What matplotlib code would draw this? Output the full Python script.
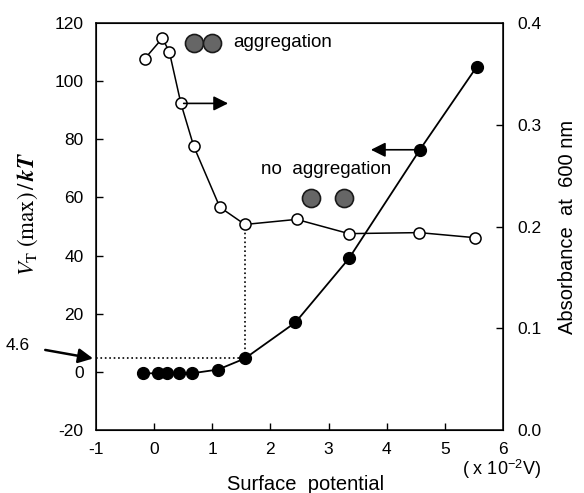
import matplotlib.pyplot as plt

plt.rcParams['font.family'] = ['Liberation Sans', 'DejaVu Sans']
plt.rcParams['mathtext.fontset'] = 'stix'
plt.rcParams['axes.unicode_minus'] = False

# potencial superficial (x 10^-2 V) y V_T(max)/kT (puntos llenos, eje izquierdo)
x_vt = [-0.19, 0.07, 0.22, 0.43, 0.65, 1.10, 1.56, 2.43, 3.35, 4.57, 5.55]
vt = [-0.5, -0.5, -0.5, -0.5, -0.5, 0.8, 4.6, 17, 39, 76.4, 105]

# absorbancia a 600 nm (puntos abiertos, eje derecho)
x_abs = [-0.16, 0.14, 0.26, 0.46, 0.68, 1.13, 1.56, 2.45, 3.35, 4.56, 5.52]
absorb = [0.365, 0.385, 0.372, 0.321, 0.279, 0.219, 0.202, 0.207, 0.193, 0.194, 0.189]

vt_critico = 4.6
x_critico = 1.56

fig = plt.figure(figsize=(5.84, 4.93), dpi=100)
ax = fig.add_axes([0.1644, 0.1278, 0.6969, 0.8255])
ax2 = ax.twinx()

ax.set_xlim(-1, 6)
ax.set_ylim(-20, 120)
ax2.set_ylim(0, 0.4)

ax.plot(x_vt, vt, '-o', color='black', lw=1.3, ms=8.5, mfc='black', zorder=3)
ax2.plot(x_abs, absorb, '-o', color='black', lw=1.1, ms=8, mfc='white', mew=1.1, zorder=3)

# lineas punteadas del valor critico
abs_c = absorb[x_abs.index(x_critico)]
top_left = -20 + abs_c / 0.4 * 140
ax.plot([-1, x_critico], [vt_critico, vt_critico], ':', color='black', lw=1.2)
ax.plot([x_critico, x_critico], [vt_critico, top_left], ':', color='black', lw=1.2)

ax.set_xticks(range(-1, 7))
ax.set_yticks(range(-20, 121, 20))
ax2.set_yticks([0.0, 0.1, 0.2, 0.3, 0.4])
ax2.set_yticklabels(['0.0', '0.1', '0.2', '0.3', '0.4'])
ax.tick_params(axis='x', direction='in', length=5, width=1, labelsize=12.5, pad=9)
ax.tick_params(axis='y', direction='in', length=5, width=1, labelsize=12.5, pad=9)
ax2.tick_params(direction='in', length=5, width=1, labelsize=12.5, pad=10)
for t in [ax.xaxis.get_major_ticks()[0], ax.xaxis.get_major_ticks()[-1]]:
    t.tick1line.set_visible(False)
for t in [ax.yaxis.get_major_ticks()[0], ax.yaxis.get_major_ticks()[-1]]:
    t.tick1line.set_visible(False)
for t in [ax2.yaxis.get_major_ticks()[0], ax2.yaxis.get_major_ticks()[-1]]:
    t.tick2line.set_visible(False)
for s in ax.spines.values():
    s.set_linewidth(1.1)

ax.set_ylabel(r'$V_{\mathrm{T}}\;(\mathrm{max})\,/\,\boldsymbol{kT}$', fontsize=16.5)
ax.yaxis.set_label_coords(-0.137, 0.53)
ax2.set_ylabel('Absorbance  at  600 nm', fontsize=14.5)
ax2.yaxis.set_label_coords(1.135, 0.5)

fig.text(306 / 584, 1 - 484 / 493, 'Surface  potential', fontsize=14.5, ha='center', va='center')
fig.text(502 / 584, 1 - 469 / 493, r'( x 10$^{\mathregular{-2}}$V)', fontsize=13, ha='center', va='center')

# flechas
ax2.annotate('', xy=(1.32, 0.321), xytext=(0.46, 0.321),
             arrowprops=dict(arrowstyle='-|>', color='black', lw=1.2, mutation_scale=22))
ax.annotate('', xy=(3.68, 76.4), xytext=(4.57, 76.4),
            arrowprops=dict(arrowstyle='-|>', color='black', lw=1.2, mutation_scale=22))
ax.annotate('4.6', xy=(-1.05, vt_critico), xytext=(0.031, 0.300), textcoords='figure fraction',
            fontsize=12.5, ha='center', va='center', annotation_clip=False,
            arrowprops=dict(arrowstyle='-|>', color='black', lw=1.8, mutation_scale=22,
                            shrinkA=9, shrinkB=0))

# esquema de agregacion
ax.plot([0.240, 0.284], [0.951, 0.951], 'o', ms=13, mfc='#666666', mec='#1a1a1a',
        mew=1.2, transform=ax.transAxes, clip_on=False)
ax.text(0.337, 0.951, 'aggregation', fontsize=13.5, transform=ax.transAxes, va='center')
ax.plot([0.528, 0.609], [0.570, 0.570], 'o', ms=13, mfc='#666666', mec='#1a1a1a',
        mew=1.2, transform=ax.transAxes)
ax.text(0.405, 0.639, 'no  aggregation', fontsize=13.5, transform=ax.transAxes, va='center')

plt.savefig('out.png', dpi=100)
